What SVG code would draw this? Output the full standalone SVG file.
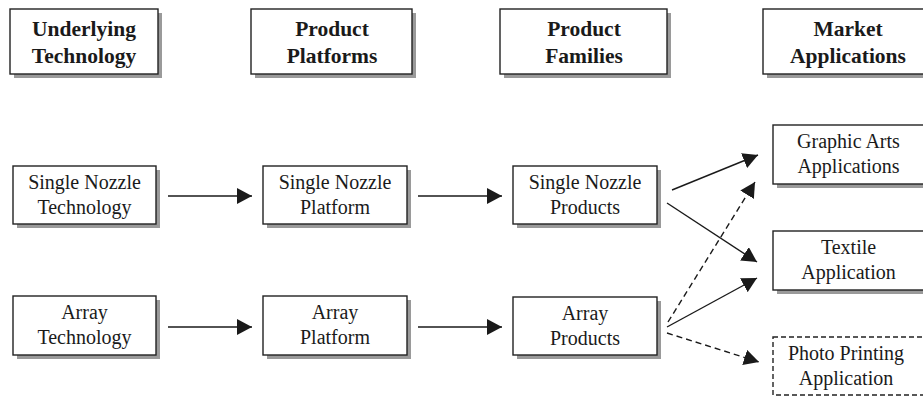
<svg xmlns="http://www.w3.org/2000/svg" width="923" height="396" viewBox="0 0 923 396">
  <defs>
    <marker id="arrow" markerUnits="userSpaceOnUse" markerWidth="16" markerHeight="16" refX="15" refY="8" orient="auto">
      <path d="M0,0 L15,8 L0,16 Z" fill="#1a1a1a"/>
    </marker>
    <style>
      .box { fill: #ffffff; stroke: #222222; stroke-width: 1.4; }
      .shadow { fill: #9a9a9a; }
      .dashbox { fill: #ffffff; stroke: #222222; stroke-width: 1.4; stroke-dasharray: 5 3; }
      .head { font-family: "Liberation Serif", "Times New Roman", serif; font-size: 21.5px; font-weight: bold; fill: #1a1a1a; text-anchor: middle; }
      .lbl { font-family: "Liberation Serif", "Times New Roman", serif; font-size: 20px; fill: #1a1a1a; text-anchor: middle; }
      .link { stroke: #1a1a1a; stroke-width: 1.4; fill: none; marker-end: url(#arrow); }
      .dash { stroke-dasharray: 6 4; }
    </style>
  </defs>
  <rect width="923" height="396" fill="#ffffff"/>

  <!-- column headers -->
  <g id="hdr-technology">
    <rect class="shadow" x="14" y="13" width="148" height="65"/>
    <rect class="box" x="10" y="9" width="148" height="65"/>
    <text class="head" x="84" y="36">Underlying</text>
    <text class="head" x="84" y="63">Technology</text>
  </g>
  <g id="hdr-platforms">
    <rect class="shadow" x="255" y="13" width="161" height="65"/>
    <rect class="box" x="251" y="9" width="161" height="65"/>
    <text class="head" x="332" y="36">Product</text>
    <text class="head" x="332" y="63">Platforms</text>
  </g>
  <g id="hdr-families">
    <rect class="shadow" x="504" y="13" width="167" height="65"/>
    <rect class="box" x="500" y="9" width="167" height="65"/>
    <text class="head" x="584" y="36">Product</text>
    <text class="head" x="584" y="63">Families</text>
  </g>
  <g id="hdr-markets">
    <rect class="shadow" x="767" y="13" width="170" height="65"/>
    <rect class="box" x="763" y="9" width="170" height="65"/>
    <text class="head" x="848" y="36">Market</text>
    <text class="head" x="848" y="63">Applications</text>
  </g>

  <!-- single nozzle row -->
  <g id="sn-technology">
    <rect class="shadow" x="17" y="170" width="143" height="58"/>
    <rect class="box" x="13" y="166" width="143" height="58"/>
    <text class="lbl" x="84.5" y="189">Single Nozzle</text>
    <text class="lbl" x="84.5" y="214">Technology</text>
  </g>
  <g id="sn-platform">
    <rect class="shadow" x="267" y="170" width="144" height="58"/>
    <rect class="box" x="263" y="166" width="144" height="58"/>
    <text class="lbl" x="335" y="189">Single Nozzle</text>
    <text class="lbl" x="335" y="214">Platform</text>
  </g>
  <g id="sn-products">
    <rect class="shadow" x="517" y="170" width="144" height="58"/>
    <rect class="box" x="513" y="166" width="144" height="58"/>
    <text class="lbl" x="585" y="189">Single Nozzle</text>
    <text class="lbl" x="585" y="214">Products</text>
  </g>

  <!-- array row -->
  <g id="ar-technology">
    <rect class="shadow" x="17" y="300" width="143" height="59"/>
    <rect class="box" x="13" y="296" width="143" height="59"/>
    <text class="lbl" x="84.5" y="319">Array</text>
    <text class="lbl" x="84.5" y="344">Technology</text>
  </g>
  <g id="ar-platform">
    <rect class="shadow" x="267" y="300" width="144" height="59"/>
    <rect class="box" x="263" y="296" width="144" height="59"/>
    <text class="lbl" x="335" y="319">Array</text>
    <text class="lbl" x="335" y="344">Platform</text>
  </g>
  <g id="ar-products">
    <rect class="shadow" x="517" y="301" width="144" height="58"/>
    <rect class="box" x="513" y="297" width="144" height="58"/>
    <text class="lbl" x="585" y="320">Array</text>
    <text class="lbl" x="585" y="345">Products</text>
  </g>

  <!-- market applications -->
  <g id="app-graphic-arts">
    <rect class="shadow" x="777" y="129" width="151" height="59"/>
    <rect class="box" x="773" y="125" width="151" height="59"/>
    <text class="lbl" x="848.5" y="148">Graphic Arts</text>
    <text class="lbl" x="848.5" y="173">Applications</text>
  </g>
  <g id="app-textile">
    <rect class="shadow" x="777" y="235" width="151" height="59"/>
    <rect class="box" x="773" y="231" width="151" height="59"/>
    <text class="lbl" x="848.5" y="254">Textile</text>
    <text class="lbl" x="848.5" y="279">Application</text>
  </g>
  <g id="app-photo">
    <rect class="dashbox" x="773" y="337" width="151" height="58"/>
    <text class="lbl" x="846" y="360">Photo Printing</text>
    <text class="lbl" x="846" y="385">Application</text>
  </g>

  <!-- connectors -->
  <g id="connectors">
    <line class="link" x1="168" y1="196" x2="252" y2="196"/>
    <line class="link" x1="418" y1="196" x2="502" y2="196"/>
    <line class="link" x1="168" y1="327" x2="252" y2="327"/>
    <line class="link" x1="418" y1="327" x2="502" y2="327"/>
    <line class="link" x1="672" y1="190" x2="758" y2="155"/>
    <line class="link" x1="667" y1="203" x2="757" y2="262"/>
    <line class="link dash" x1="668" y1="322" x2="755" y2="182"/>
    <line class="link" x1="667" y1="327" x2="757" y2="278"/>
    <line class="link dash" x1="667" y1="333" x2="759" y2="362"/>
  </g>
</svg>
